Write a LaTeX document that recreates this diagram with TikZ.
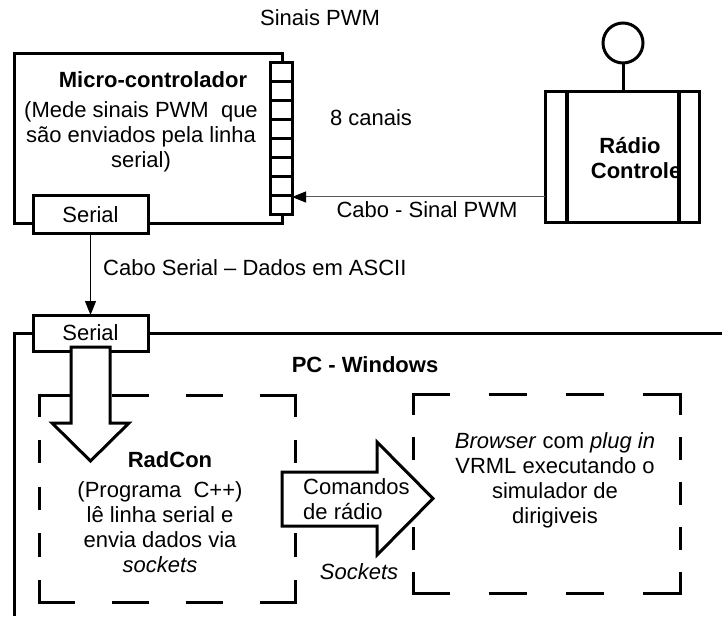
\documentclass[tikz,border=0pt]{standalone}
\usepackage{fontspec}
\setmainfont{Liberation Sans}
\usetikzlibrary{arrows.meta}
\begin{document}
\begin{tikzpicture}[x=1pt,y=-1pt,
  txt/.style={font=\fontsize{22}{25}\selectfont, inner sep=0pt, align=center},
  bold/.style={font=\fontsize{22}{25}\selectfont\bfseries, inner sep=0pt, align=center},
  frame/.style={draw, line width=3pt},
  boxnode/.style={draw, line width=3pt, fill=white, inner sep=0pt, outer sep=0pt},
  area/.style={inner sep=0pt, outer sep=0pt},
  dashside/.style={line width=3pt},
  hollow/.style={draw, line width=3pt, fill=white, line join=miter},
  wire/.style={line width=1pt, -{Triangle[length=14pt,width=11pt,color=black]}},
]
\useasboundingbox (0,0) rectangle (722,620);

% ---------------- micro-controller ----------------
\node[boxnode, minimum width=268pt, minimum height=170pt] (micro) at (148,139) {};
\node[boxnode, minimum width=22pt, minimum height=152pt] (strip) at (281,139) {};
\foreach \k in {1,...,7}
  \draw[line width=3pt] (270,{63+19*\k}) -- (292,{63+19*\k});
\node[boxnode, txt, minimum width=115pt, minimum height=38pt] (ser1) at (90.5,215) {Serial};
\node[bold] (microname) at (153,80) {Micro-controlador};
\node[txt] (microdesc) at (141,137) {(Mede sinais PWM\ \ que\\são enviados pela linha\\serial)};

% ---------------- radio control ----------------
\node[boxnode, minimum width=154pt, minimum height=131pt] (radio) at (622,157.5) {};
\draw[line width=4pt] ([xshift=22pt]radio.north west) -- ([xshift=22pt]radio.south west);
\draw[line width=4pt] ([xshift=-20pt]radio.north east) -- ([xshift=-20pt]radio.south east);
\node[draw, circle, line width=3pt, minimum size=40pt, inner sep=0pt] (ant) at (623,43) {};
\draw[line width=3pt] (ant.south) -- (ant.south |- radio.north);
\node[bold] (radioname) at (630,158) {Rádio\\\ \ Controle};

% PWM cable
\coordinate (pwmy) at (0,197);
\draw[wire, black!65] (radio.west |- pwmy) -- (strip.east |- pwmy);
\node[txt] (sinais) at (320,18) {Sinais PWM};
\node[txt] (canais) at (371,118) {8 canais};
\node[txt] (cabopwm) at (427,210) {Cabo - Sinal PWM};

% ---------------- PC ----------------
\coordinate (pcleft) at (14,334);
\coordinate (pcbottom) at (14,616);
\coordinate (pcright) at (724,334);
\node[boxnode, txt, minimum width=115pt, minimum height=36pt] (ser2) at (90.5,333) {Serial};
\draw[frame] (ser2.west) -- (ser2.west -| pcleft) -- (pcbottom);
\draw[frame] (ser2.east) -- (ser2.east -| pcright);
\draw[wire] (ser1.south) -- (ser2.north);
\node[txt, anchor=west] (cabser) at (103,268) {Cabo Serial – Dados em ASCII};
\node[bold] (pc) at (365,365) {PC - Windows};

% dashed program areas
\node[area, minimum width=256pt, minimum height=207pt] (rc) at (167,498.5) {};
\node[area, minimum width=267pt, minimum height=199pt] (br) at (546.5,493.5) {};
\draw[dashside, dash pattern=on 37pt off 37pt] ([xshift=-1.5pt]rc.north west) -- ([xshift=1.5pt]rc.north east);
\draw[dashside, dash pattern=on 37pt off 37pt] ([xshift=-1.5pt]rc.south west) -- ([xshift=1.5pt]rc.south east);
\draw[dashside, dash pattern=on 23.33pt off 23.33pt] ([yshift=1.5pt]rc.north west) -- ([yshift=-1.5pt]rc.south west);
\draw[dashside, dash pattern=on 23.33pt off 23.33pt] ([yshift=1.5pt]rc.north east) -- ([yshift=-1.5pt]rc.south east);
\draw[dashside, dash pattern=on 38.57pt off 38.57pt] ([xshift=-1.5pt]br.north west) -- ([xshift=1.5pt]br.north east);
\draw[dashside, dash pattern=on 38.57pt off 38.57pt] ([xshift=-1.5pt]br.south west) -- ([xshift=1.5pt]br.south east);
\draw[dashside, dash pattern=on 22.44pt off 22.44pt] ([yshift=1.5pt]br.north west) -- ([yshift=-1.5pt]br.south west);
\draw[dashside, dash pattern=on 22.44pt off 22.44pt] ([yshift=1.5pt]br.north east) -- ([yshift=-1.5pt]br.south east);

% block arrows
\draw[hollow] (71,347) -- (71,423) -- (52,423) -- (90.5,461) -- (129,423) -- (110,423) -- (110,347) -- cycle;
\draw[hollow] (282,472) -- (377,472) -- (377,442) -- (433,498.5) -- (377,555) -- (377,526) -- (282,526) -- cycle;

% texts
\node[txt, align=left, anchor=west] (cmd) at (303,499) {Comandos\\de rádio};
\node[txt] (sock) at (359,572) {\itshape Sockets};
\node[bold] (rcname) at (170,460) {RadCon};
\node[txt] (rcdesc) at (160,527.5) {(Programa\ \ C++)\\lê linha serial e\\envia dados via\\\textit{sockets}};
\node[txt] (brdesc) at (555,480) {\textit{Browser} com \textit{plug in}\\VRML executando o\\simulador de\\dirigiveis};
\end{tikzpicture}
\end{document}
